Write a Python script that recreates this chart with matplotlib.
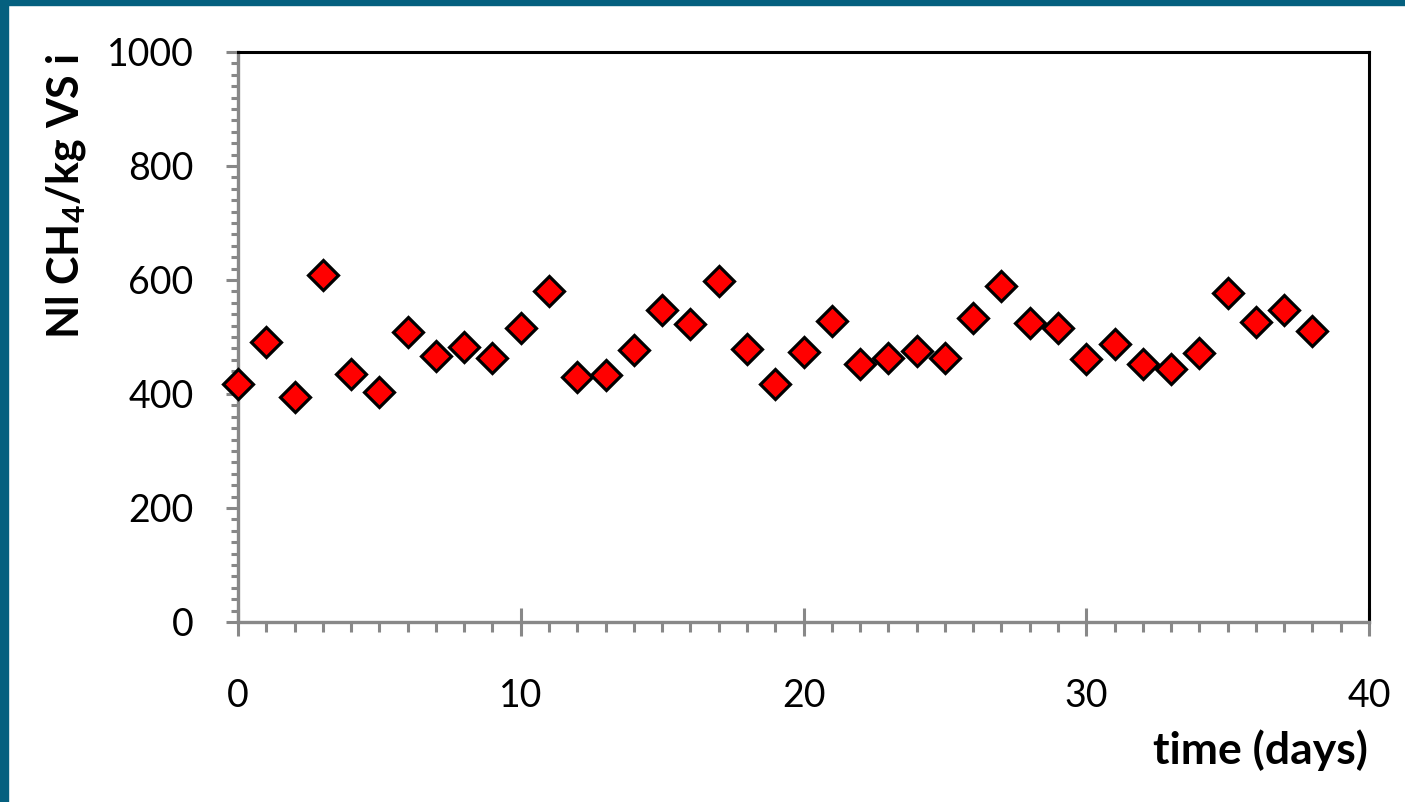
import matplotlib.pyplot as plt
from matplotlib.patches import Rectangle
from matplotlib.ticker import MultipleLocator

plt.rcParams['font.family'] = ['Lato', 'DejaVu Sans']

days = list(range(39))
methane = [417, 492, 395, 608, 435, 404, 508, 466, 483, 463, 515, 581,
           429, 433, 478, 548, 523, 599, 479, 417, 474, 528, 453, 464,
           476, 463, 534, 590, 525, 515, 461, 487, 452, 444, 472, 578,
           526, 547, 510]

W, H = 1405, 802
fig = plt.figure(figsize=(W / 100, H / 100), dpi=100)
ax = fig.add_axes([238 / W, 1 - 622 / H, (1369 - 238) / W, (622 - 52) / H])

ax.plot(days, methane, linestyle='none', marker='D', markersize=15.5,
        markerfacecolor='#ff0000', markeredgecolor='black', markeredgewidth=2.3,
        clip_on=False, zorder=3)

ax.set_xlim(0, 40)
ax.set_ylim(0, 1000)
ax.xaxis.set_major_locator(MultipleLocator(10))
ax.xaxis.set_minor_locator(MultipleLocator(1))
ax.yaxis.set_major_locator(MultipleLocator(200))
ax.yaxis.set_minor_locator(MultipleLocator(20))

grey = '#888888'
for side in ['left', 'bottom']:
    ax.spines[side].set_color(grey)
    ax.spines[side].set_linewidth(2.4)
for side in ['top', 'right']:
    ax.spines[side].set_color('black')
    ax.spines[side].set_linewidth(2.2)

ax.tick_params(axis='x', which='major', direction='inout', length=20, width=2.2,
               color=grey, labelsize=27, pad=30)
ax.tick_params(axis='x', which='minor', direction='out', length=7.5, width=2.2,
               color=grey)
ax.tick_params(axis='y', which='major', direction='out', length=9, width=2.2,
               color=grey, labelsize=27, pad=23)
ax.tick_params(axis='y', which='minor', direction='out', length=5, width=2.2,
               color=grey)

fig.text(66 / W, 1 - 196 / H, 'Nl CH$_\\mathregular{4}$/kg VS i', rotation=90,
         ha='center', va='center', fontsize=31, fontweight='bold')
fig.text(1368 / W, 1 - 750 / H, 'time (days)', ha='right', va='center',
         fontsize=32, fontweight='bold')

# teal frame at top and left
fig.patches.append(Rectangle((0, 1 - 5 / H), 1, 5 / H, transform=fig.transFigure,
                             color='#05607f', zorder=10))
fig.patches.append(Rectangle((0, 0), 8 / W, 1, transform=fig.transFigure,
                             color='#05607f', zorder=10))

plt.savefig('out.png', dpi=100)
